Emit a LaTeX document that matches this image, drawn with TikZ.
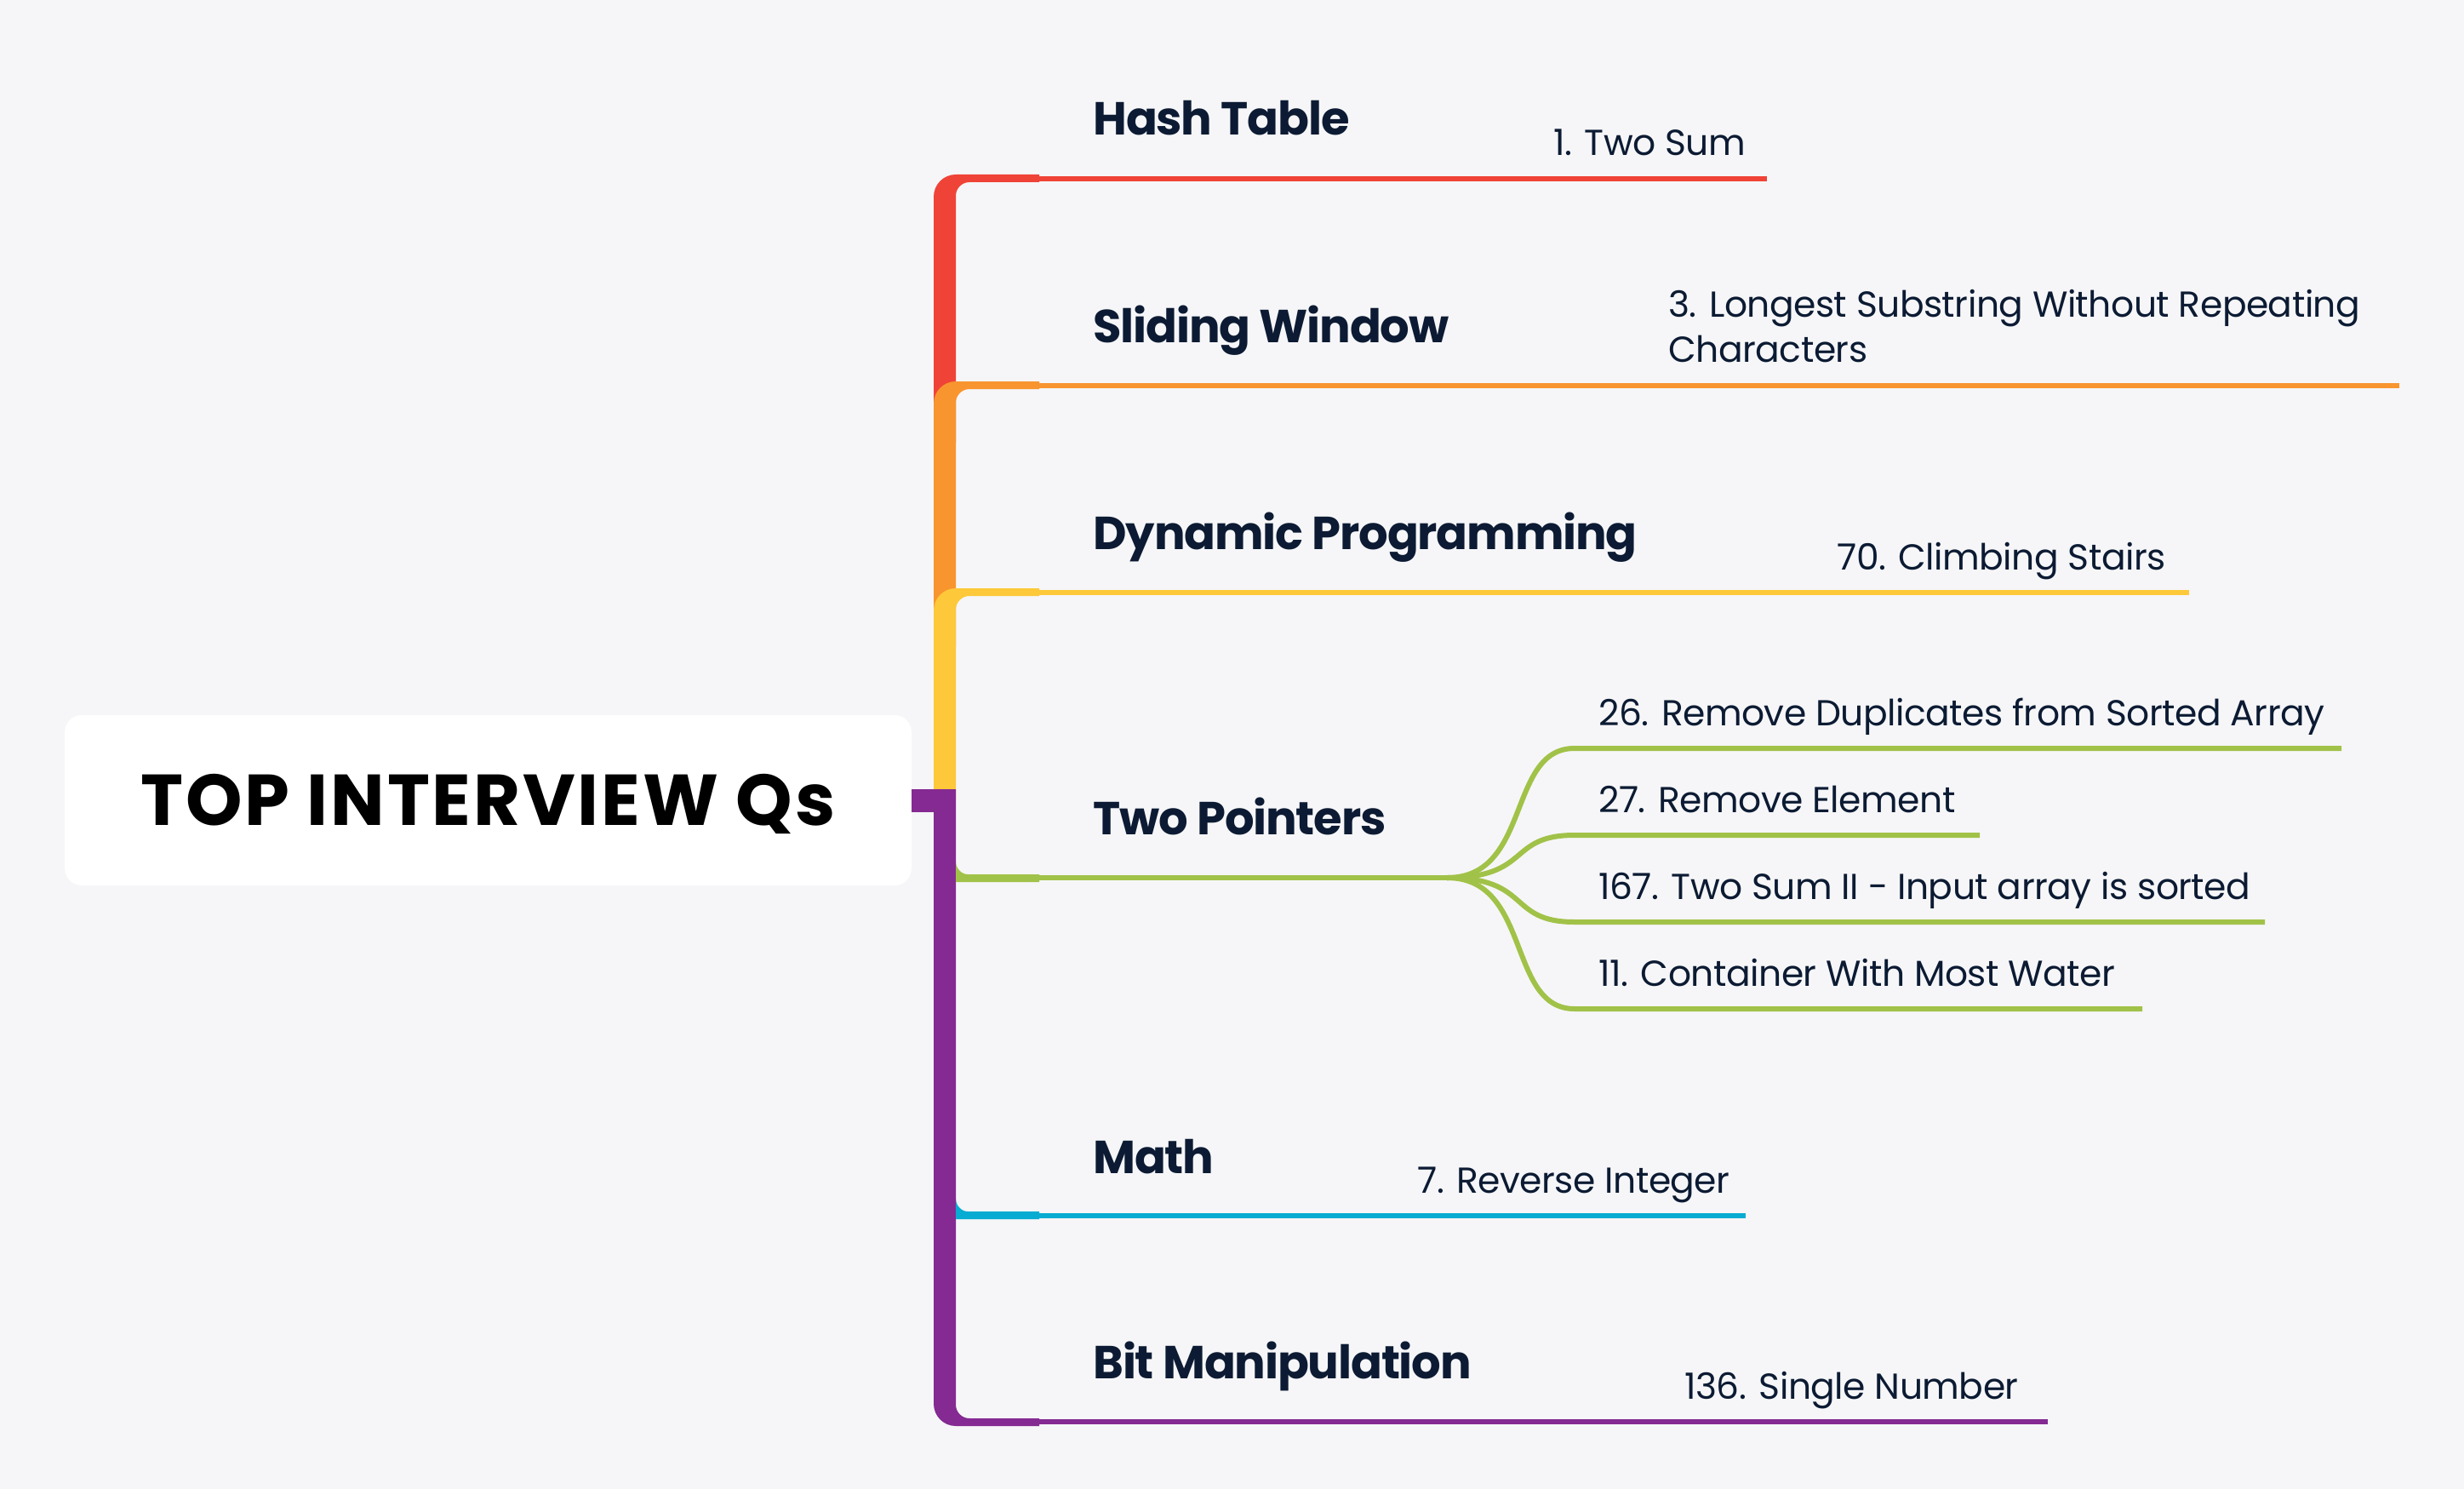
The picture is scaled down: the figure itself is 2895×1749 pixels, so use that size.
\documentclass[tikz,border=0pt]{standalone}
\usepackage{fontspec}
\setmainfont{Poppins}
\usetikzlibrary{calc}
\definecolor{bgc}{HTML}{F6F6F8}
\definecolor{ink}{HTML}{0C1B33}
\definecolor{cRed}{HTML}{F04337}
\definecolor{cOrange}{HTML}{F8952F}
\definecolor{cYellow}{HTML}{FDC83A}
\definecolor{cGreen}{HTML}{A1C248}
\definecolor{cCyan}{HTML}{08ACD2}
\definecolor{cPurple}{HTML}{842A92}

% bracket piece above the centre: outer rounded corner, stub, inner fillet
\newcommand{\upperpiece}[3]{%
  \fill[#1] (1097,#3) -- (1097,{#2+21})
    .. controls (1097,{#2+6.6}) and (1108.6,{#2-5}) .. (1123,{#2-5})
    -- (1221,{#2-5}) -- (1221,{#2+4}) -- (1139,{#2+4})
    .. controls (1130.2,{#2+4}) and (1123,{#2+11.2}) .. (1123,{#2+20})
    -- (1123,#3) -- cycle;}
% stub hanging off the right edge of the bar, with a fillet on top
\newcommand{\sidepiece}[2]{%
  \fill[#1] (1123,{#2-19})
    .. controls (1123,{#2-11.3}) and (1129.3,{#2-4}) .. (1137,{#2-4})
    -- (1221,{#2-4}) -- (1221,{#2+5}) -- (1123,{#2+5}) -- cycle;}

\begin{document}
\begin{tikzpicture}[x=0.5pt,y=-0.5pt,
  branchline/.style={line width=3pt,line cap=butt},
  topic/.style={anchor=base west,inner sep=0pt,text=ink,
    font=\fontsize{27.2}{32}\selectfont\bfseries\addfontfeatures{LetterSpace=-2.2}},
  leaf/.style={anchor=base west,inner sep=0pt,text=ink,
    font=\fontsize{21.2}{26.5}\selectfont\addfontfeatures{LetterSpace=-1.2}},
  rootbox/.style={fill=white,rounded corners=10pt,inner sep=0pt,
    minimum width=497.5pt,minimum height=100pt,
    text height=29.5pt,text depth=0pt,
    font=\fontsize{42.3}{50}\selectfont\bfseries\addfontfeatures{LetterSpace=3.3},text=black}]

\fill[bgc] (0,0) rectangle (2895,1749);
\useasboundingbox (0,0) rectangle (2895,1749);

% central topic
\node[rootbox] (root) at (573.5,940) {TOP INTERVIEW Qs};

% bracket
\upperpiece{cRed}{210}{520}
\upperpiece{cOrange}{453}{760}
\upperpiece{cYellow}{696}{940}
\fill[cPurple] (root.east |- 0,927) rectangle (1123,954);
\fill[cPurple] (1097,927) -- (1097,1649)
  .. controls (1097,1663.4) and (1108.6,1675) .. (1123,1675)
  -- (1221,1675) -- (1221,1666) -- (1139,1666)
  .. controls (1130.2,1666) and (1123,1658.8) .. (1123,1650)
  -- (1123,927) -- cycle;
\sidepiece{cGreen}{1031}
\sidepiece{cCyan}{1427}

% stub ends
\coordinate (sHash) at (1216,210);
\coordinate (sSlide) at (1216,453);
\coordinate (sDyn) at (1216,696);
\coordinate (sTwo) at (1216,1031);
\coordinate (sMath) at (1216,1428);
\coordinate (sBit) at (1216,1670);

% topics
\node[topic] (hash) at (1284,159) {Hash Table};
\node[topic] (slide) at (1284,402) {Sliding Window};
\node[topic] (dyn) at (1284,645) {Dynamic Programming};
\node[topic] (two) at (1284,980) {Two Pointers};
\node[topic] (math) at (1284,1378) {Math};
\node[topic] (bit) at (1284,1619) {Bit Manipulation};

% leaves
\node[leaf] (q1) at (1825,183) {1. Two Sum};
\node[leaf,align=left] (q3) at (1960,425) {3. Longest Substring Without Repeating\\Characters};
\node[leaf] (q70) at (2158,669) {70. Climbing Stairs};
\node[leaf] (q26) at (1878,852) {26. Remove Duplicates from Sorted Array};
\node[leaf] (q27) at (1878,954) {27. Remove Element};
\node[leaf] (q167) at (1878,1056) {167. Two Sum II - Input array is sorted};
\node[leaf] (q11) at (1878,1158) {11. Container With Most Water};
\node[leaf] (q7) at (1665,1401) {7. Reverse Integer};
\node[leaf] (q136) at (1979,1643) {136. Single Number};

% line ends under the leaves
\coordinate (e1) at (2076,210);
\coordinate (e3) at (2819,453);
\coordinate (e70) at (2572,696);
\coordinate (fan) at (1700,1031);
\coordinate (b26) at (1850,879);   \coordinate (e26) at (2751,879);
\coordinate (b27) at (1850,981);   \coordinate (e27) at (2326,981);
\coordinate (b167) at (1850,1083); \coordinate (e167) at (2661,1083);
\coordinate (b11) at (1850,1185);  \coordinate (e11) at (2517,1185);
\coordinate (e7) at (2051,1428);
\coordinate (e136) at (2406,1670);

\draw[branchline,cRed] (sHash) -- (e1);
\draw[branchline,cOrange] (sSlide) -- (e3);
\draw[branchline,cYellow] (sDyn) -- (e70);
\draw[branchline,cCyan] (sMath) -- (e7);
\draw[branchline,cPurple] (sBit) -- (e136);

\draw[branchline,cGreen] (sTwo) -- (fan);
\foreach \b/\e in {b26/e26,b27/e27,b167/e167,b11/e11}{
  \draw[branchline,cGreen] (fan) .. controls ($(fan)+(100,0)$) and ($(\b)+(-80,0)$) .. (\b) -- (\e);
}
\end{tikzpicture}
\end{document}
